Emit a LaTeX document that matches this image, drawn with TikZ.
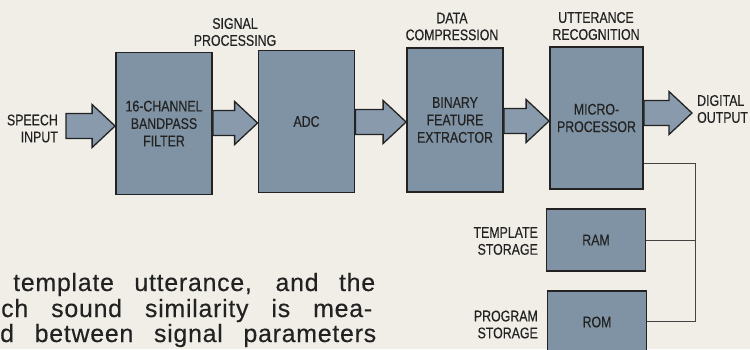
\documentclass[tikz,border=0pt]{standalone}
\usepackage{fontspec}
\usetikzlibrary{calc}
\newfontfamily\condfont[FakeStretch=0.8,FakeBold=0.4]{Liberation Sans}
\newfontfamily\bodyfont[LetterSpace=3,FakeBold=0.3]{Liberation Sans}
\definecolor{paper}{RGB}{240,238,231}
\definecolor{slate}{RGB}{128,147,165}
\definecolor{slatelight}{RGB}{136,154,171}
\definecolor{ink}{RGB}{34,34,34}
\tikzset{
  unit/.style={draw=ink,line width=1.8pt,fill=slate,text=ink,minimum width=96bp,
    align=center,inner sep=0pt,font=\condfont\fontsize{15.5}{17.5}\selectfont},
  mainunit/.style={unit,minimum height=142bp},
  memunit/.style={unit,minimum height=62bp,minimum width=99bp},
  caption/.style={text=ink,inner sep=0pt,font=\condfont\fontsize{15.5}{17}\selectfont},
  flow/.style={draw=ink,line width=1.3pt,fill=slatelight,line join=miter},
  link/.style={draw=ink!85,line width=0.9pt},
  prose/.style={text=ink,inner sep=0pt,anchor=base west,font=\bodyfont\fontsize{25}{25}\selectfont}
}
% block arrow from #1 to its tip #2
\newcommand{\flowarrow}[2]{%
  \filldraw[flow] ($(#1)+(0,-12.5)$) -- ($(#2)+(-23,-12.5)$) -- ($(#2)+(-23,-21.5)$) -- (#2)
    -- ($(#2)+(-23,21.5)$) -- ($(#2)+(-23,12.5)$) -- ($(#1)+(0,12.5)$) -- cycle;}

\begin{document}
\begin{tikzpicture}[x=1bp,y=-1bp]
\useasboundingbox (0,0) rectangle (750,349);
\clip (0,0) rectangle (750,349);
\fill[paper] (0,0) rectangle (750,349);

% main chain
\node[mainunit] (filt) at (164,123.5) {16-CHANNEL\\BANDPASS\\FILTER};
\node[mainunit] (adc) at (306.5,121.5) {ADC};
\node[mainunit,minimum height=144bp] (bfe) at (455,120) {BINARY\\FEATURE\\EXTRACTOR};
\node[mainunit,minimum width=93bp] (mp) at (596.5,118) {MICRO-\\PROCESSOR};

% memories
\node[memunit] (ram) at (596,240) {RAM};
\node[memunit] (rom) at (597,322) {ROM};

% captions
\node[caption,align=right,anchor=east] (speechlbl) at (58,128.5) {SPEECH\\INPUT};
\node[caption,align=center] (siglbl) at (235,32) {SIGNAL\\PROCESSING};
\node[caption,align=center] (complbl) at (452,26.5) {DATA\\COMPRESSION};
\node[caption,align=center] (reclbl) at (596,26) {UTTERANCE\\RECOGNITION};
\node[caption,align=left,anchor=west] (outlbl) at (697,109) {DIGITAL\\OUTPUT};
\node[caption,align=right,anchor=east] (ramlbl) at (538,241) {TEMPLATE\\STORAGE};
\node[caption,align=right,anchor=east] (romlbl) at (538,324.5) {PROGRAM\\STORAGE};

% block arrows
\coordinate (speechin) at (66,126);
\coordinate (digout) at (692,113);
\flowarrow{speechin}{filt.west |- speechin}
\flowarrow{filt.east |- 0,123}{adc.west |- 0,123}
\flowarrow{adc.east |- 0,122}{bfe.west |- 0,122}
\flowarrow{bfe.east |- 0,121}{mp.west |- 0,121}
\flowarrow{mp.east |- digout}{digout}

% memory bus
\coordinate (busTop) at (695,163);
\coordinate (busBot) at (695,321);
\draw[link] (mp.east |- busTop) -- (busTop) -- (busBot) -- (rom.east |- busBot);
\draw[link] (ram.east) -- (ram.east -| busTop);

% running text of the page
\node[prose] (line1) at (13,291) {\makebox[362bp][s]{template utterance, and the}};
\node[prose] (line2) at (1,317) {\makebox[371bp][s]{ch sound similarity is mea-}};
\node[prose] (line3) at (0,342) {\makebox[376bp][s]{d between signal parameters}};
\end{tikzpicture}
\end{document}
